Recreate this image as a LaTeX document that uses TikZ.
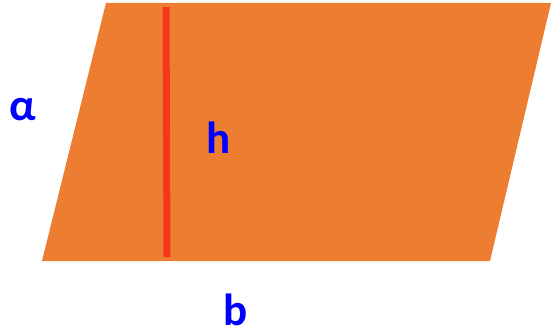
\documentclass[tikz,border=0pt]{standalone}
\usepackage{fontspec}
\setmainfont{Carlito}
\definecolor{fillorange}{HTML}{ED7D31}
\definecolor{heightred}{HTML}{F5371A}
\definecolor{labelblue}{HTML}{0000FF}
\tikzset{
    lbl/.style={text=labelblue, font=\fontsize{45}{45}\selectfont\bfseries, inner sep=0pt, anchor=base, text depth=0pt}
}
\begin{document}
\begin{tikzpicture}[x=1pt, y=-1pt]
    \useasboundingbox (0,0) rectangle (551,331);

    % Paralelogramo
    \coordinate (A) at (42,261);
    \coordinate (B) at (490,261);
    \coordinate (C) at (551,3);
    \coordinate (D) at (106,3);
    \fill[fillorange] (A) -- (B) -- (C) -- (D) -- cycle;

    % Altura
    \coordinate (htop) at (166,7);
    \coordinate (hbot) at (167,257);
    \draw[heightred, line width=7pt] (htop) -- (hbot);

    % Etiquetas
    \node[lbl] (alpha) at (23,121) {α};
    \node[lbl] (hlabel) at (219,154) {h};
    \node[lbl] (blabel) at (236,325) {b};
\end{tikzpicture}
\end{document}
